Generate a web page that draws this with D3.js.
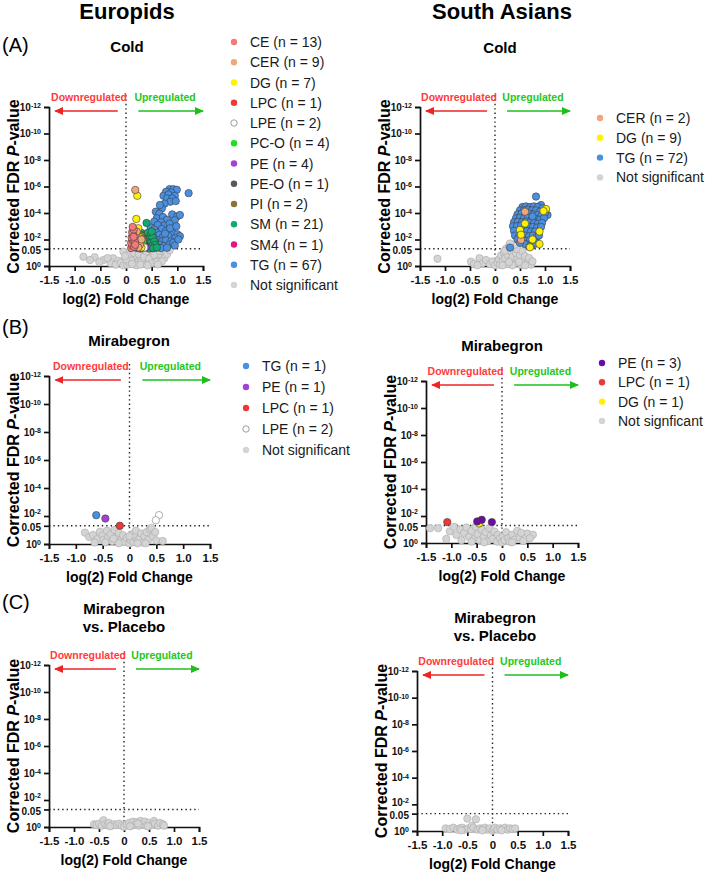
<!DOCTYPE html>
<html>
<head>
<meta charset="utf-8">
<script src="https://cdn.jsdelivr.net/npm/d3@7"></script>
<style>
  body { margin: 0; background: #fff; }
  text { font-family: "Liberation Sans", Arial, sans-serif; }
</style>
</head>
<body>
<div id="chart"></div>
<script>
// every point is [log2 fold change, -log10 corrected FDR p]

// (A) Europids, cold
const eurColdNS = [[-0.83,0.7],[-0.61,0.66],[-0.44,0.45],[-0.25,0.58],[-0.05,1.08],[-0.52,0.3],[-0.7,0.45],[-0.3,0.22],[-0.15,0.4],[-0.2,0.1],[-0.1,0.25],[-0.05,0.05],[-0.36,0.6],
  [0.02,0.1],[0.05,0.3],[0.08,0.6],[0.1,0.9],[0.12,1.2],[0.15,0.2],[0.18,0.5],[0.2,0.8],[0.22,1.1],[0.25,0.35],[0.28,0.65],[0.3,0.95],[0.32,1.2],[0.35,0.15],[0.38,0.45],[0.4,0.75],
  [0.42,1.05],[0.45,0.3],[0.48,0.6],[0.5,0.9],[0.52,1.15],[0.55,0.4],[0.58,0.7],[0.6,1.0],[0.65,0.5],[0.68,0.85],[0.72,1.1],[0.75,0.6],[0.8,0.9],[0.05,0.85],[0.1,0.4],[0.15,1.0],
  [0.2,0.05],[0.25,0.9],[0.3,0.3],[0.35,0.7],[0.4,1.1],[0.45,0.55],[0.5,0.2],[0.55,0.85],[0.6,0.3],[0.65,1.15],[0.7,0.35],[0.0,0.5],[-0.02,0.75],[0.12,0.15],[0.28,0.1],[0.42,0.05],[0.85,1.2],[0.62,0.12]];
const eurColdTG = [[0.85,5.8],[0.92,5.8],[0.99,5.75],[0.78,5.6],[0.88,5.55],[0.73,5.3],[0.83,5.4],[0.95,5.3],[1.22,5.5],[0.8,5.1],[0.9,5.1],[0.86,4.85],[0.97,4.9],[0.75,4.7],[0.7,4.35],
  [0.58,4.1],[0.65,3.95],[0.9,3.9],[1.0,3.75],[1.05,3.85],[0.6,3.6],[0.72,3.7],[0.8,3.5],[0.55,3.35],[0.68,3.3],[0.95,3.45],[0.62,3.1],[0.75,3.05],[0.85,3.2],[0.48,2.9],[0.55,2.75],
  [0.7,2.8],[0.78,2.65],[0.9,2.55],[0.6,2.5],[0.5,2.4],[0.65,2.35],[0.72,2.2],[0.82,2.3],[1.0,2.4],[1.05,2.25],[0.96,2.1],[0.45,2.2],[0.55,2.05],[0.62,1.95],[0.7,1.85],[0.78,1.95],
  [0.88,1.85],[0.48,1.8],[0.58,1.7],[0.66,1.6],[0.74,1.5],[0.84,1.6],[0.92,1.75],[0.52,1.55],[0.6,1.4],[0.68,1.35],[0.8,1.38],[0.46,1.45],[0.56,1.9],[0.76,2.45],[0.86,2.85],[0.98,3.0],
  [0.66,4.6],[0.52,1.35],[0.95,1.55],[1.02,2.0]];
const eurColdSM4 = [[0.3,1.6]];
const eurColdSM = [[0.4,3.25],[0.3,2.5],[0.35,2.3],[0.42,2.5],[0.48,2.3],[0.38,2.05],[0.45,2.0],[0.52,2.15],[0.33,1.75],[0.4,1.8],[0.47,1.7],[0.55,1.85],[0.37,1.55],[0.43,1.45],
  [0.5,1.5],[0.57,1.6],[0.45,1.32],[0.53,1.35],[0.6,1.4],[0.27,2.1],[0.5,2.6]];
const eurColdPI = [[0.34,2.0],[0.3,2.3]];
const eurColdPEO = [[0.36,1.6]];
const eurColdPE = [[0.32,1.35],[0.35,1.5],[0.38,1.4],[0.28,1.32]];
const eurColdPCO = [[0.27,1.7],[0.29,1.5],[0.33,1.85],[0.25,1.35]];
const eurColdLPE = [[0.3,1.5],[0.35,1.4]];
const eurColdLPC = [[0.2,1.38]];
const eurColdDG = [[0.22,5.3],[0.2,3.55],[0.24,2.85],[0.26,2.2],[0.28,1.75],[0.23,1.5],[0.3,1.4]];
const eurColdCER = [[0.18,5.74],[0.2,1.5],[0.22,1.8],[0.25,2.1],[0.19,2.4],[0.27,1.6],[0.24,1.4],[0.3,2.0],[0.21,2.6]];
const eurColdCE = [[0.1,1.35],[0.12,1.55],[0.1,1.75],[0.13,1.95],[0.11,2.15],[0.14,2.35],[0.12,2.55],[0.15,2.75],[0.13,2.95],[0.16,1.45],[0.17,1.85],[0.15,2.2],[0.18,1.6]];

// (A) South Asians, cold
const saColdNS = [[-1.15,0.55],[-0.48,0.33],[-0.42,0.15],[-0.31,0.58],[-0.25,0.2],[-0.18,0.45],[-0.1,0.15],[-0.05,0.35],[0.0,0.05],[0.05,0.25],[0.08,0.5],[0.1,0.1],[0.12,0.8],
  [0.15,0.35],[0.18,1.0],[0.2,0.6],[0.22,1.3],[0.25,0.15],[0.25,0.85],[0.28,1.55],[0.3,0.4],[0.32,1.1],[0.35,0.7],[0.38,1.4],[0.4,0.2],[0.42,0.95],[0.45,1.25],[0.45,0.5],[0.5,0.8],
  [0.52,0.1],[0.55,1.1],[0.58,0.45],[0.6,0.75],[0.65,0.25],[0.68,0.6],[0.72,0.1],[0.75,0.35],[0.35,0.05],[0.15,0.05],[0.6,0.05],[0.48,0.3],[0.28,0.3],[-0.35,0.05],[0.4,1.6],
  [0.3,1.7],[0.2,1.15]];
const saColdTG = [[0.82,5.24],[0.92,4.6],[1.05,3.85],[0.55,4.45],[0.62,4.5],[0.7,4.45],[0.78,4.5],[0.86,4.45],[0.95,4.35],[0.5,4.2],[0.58,4.2],[0.66,4.25],[0.74,4.2],[0.82,4.2],
  [0.9,4.1],[1.0,4.0],[0.45,3.9],[0.53,3.95],[0.61,3.9],[0.69,3.95],[0.77,3.9],[0.85,3.85],[0.93,3.8],[0.42,3.6],[0.5,3.65],[0.58,3.6],[0.66,3.65],[0.74,3.6],[0.82,3.55],[0.9,3.5],
  [0.98,3.6],[0.38,3.3],[0.46,3.35],[0.54,3.3],[0.62,3.35],[0.7,3.3],[0.78,3.25],[0.86,3.2],[0.94,3.25],[0.36,3.0],[0.44,3.0],[0.52,3.05],[0.6,3.0],[0.68,2.95],[0.76,2.95],[0.84,2.9],
  [0.92,2.95],[0.38,2.65],[0.56,2.7],[0.64,2.65],[0.72,2.6],[0.8,2.6],[0.4,2.3],[0.48,2.2],[0.6,2.3],[0.68,2.25],[0.76,2.3],[0.84,2.2],[0.55,1.95],[0.62,1.9],[0.7,1.95],[0.78,1.85],
  [0.66,1.6],[0.74,1.55],[0.82,1.7],[0.3,1.39],[0.6,1.65],[0.69,1.46],[0.45,2.0],[0.88,2.3],[0.5,1.75],[0.75,3.75]];
const saColdDG = [[1.02,4.3],[0.97,4.15],[0.5,2.72],[0.52,2.36],[0.89,2.6],[0.89,1.66],[0.7,1.41],[0.6,3.2],[0.75,2.0]];
const saColdCER = [[0.6,4.1],[0.52,1.97]];

// (B) Europids, mirabegron
const eurMiraNS = [[-0.83,0.81],[-0.75,0.5],[-0.68,0.64],[-0.6,0.35],[-0.55,0.88],[-0.5,0.6],[-0.49,0.3],[-0.42,0.95],[-0.4,0.45],[-0.35,0.7],[-0.32,0.2],[-0.28,1.0],[-0.24,0.52],
  [-0.2,0.8],[-0.15,0.3],[-0.12,0.62],[-0.09,0.15],[-0.05,0.45],[0.0,0.05],[0.02,0.3],[0.05,0.7],[0.07,0.15],[0.1,0.5],[0.12,0.95],[0.15,0.25],[0.19,0.4],[0.22,0.75],[0.25,0.1],
  [0.28,0.55],[0.32,0.85],[0.35,0.3],[0.38,1.05],[0.41,1.15],[0.44,0.55],[0.48,0.85],[0.5,0.25],[0.62,0.21],[-0.65,0.1],[-0.45,0.12],[-0.2,0.05],[0.15,0.05],[0.3,0.05],[-0.3,0.38],[0.0,0.55]];
const eurMiraTG = [[-0.62,2.06]];
const eurMiraPE = [[-0.45,1.82]];
const eurMiraLPC = [[-0.18,1.3]];
const eurMiraLPE = [[0.55,2.06],[0.49,1.7]];

// (B) South Asians, mirabegron
const saMiraNS = [[-1.42,1.1],[-1.26,1.1],[-1.03,0.86],[-0.95,1.2],[-0.9,0.6],[-0.82,1.0],[-0.75,0.75],[-0.7,1.15],[-0.65,0.45],[-0.6,0.9],[-0.55,0.3],[-0.52,1.2],[-0.48,0.65],
  [-0.44,0.2],[-0.4,1.0],[-0.36,0.45],[-0.32,0.8],[-0.28,0.15],[-0.25,1.1],[-0.22,0.55],[-0.18,0.3],[-0.15,0.85],[-0.1,0.1],[-0.08,0.6],[-0.04,0.35],[0.0,0.05],[0.02,0.5],[0.05,0.2],
  [0.08,0.8],[0.12,0.35],[0.15,0.1],[0.2,0.6],[0.25,0.25],[0.3,0.9],[0.35,0.4],[0.42,0.15],[0.5,0.7],[0.61,0.61],[0.55,0.35],[0.38,0.75],[-0.6,0.1],[-0.8,0.2],[-0.35,0.05],[0.2,0.05],[-1.1,0.3]];
const saMiraDG = [[-0.45,1.45]];
const saMiraPE = [[-0.49,1.6],[-0.4,1.72],[-0.2,1.55]];
const saMiraLPC = [[-1.08,1.55]];

// (C) mirabegron vs. placebo
const eurPlacNS = [[-0.6,0.2],[-0.55,0.15],[-0.5,0.25],[-0.45,0.1],[-0.41,0.5],[-0.38,0.2],[-0.33,0.15],[-0.3,0.3],[-0.25,0.1],[-0.2,0.2],[-0.15,0.15],[-0.1,0.25],[-0.05,0.1],
  [0.0,0.02],[0.05,0.2],[0.1,0.3],[0.15,0.1],[0.18,0.4],[0.22,0.2],[0.25,0.35],[0.3,0.1],[0.33,0.45],[0.38,0.2],[0.42,0.4],[0.45,0.1],[0.5,0.3],[0.55,0.15],[0.6,0.45],[0.62,0.25],
  [0.68,0.1],[0.72,0.3],[0.78,0.2],[0.8,0.1],[0.28,0.25],[0.12,0.05],[0.48,0.05],[-0.28,0.05]];
const saPlacNS = [[-0.93,0.2],[-0.85,0.15],[-0.78,0.25],[-0.7,0.1],[-0.65,0.2],[-0.6,0.25],[-0.55,0.1],[-0.5,0.93],[-0.48,0.2],[-0.43,0.15],[-0.41,0.38],[-0.38,0.25],[-0.33,0.88],
  [-0.3,0.1],[-0.25,0.2],[-0.2,0.15],[-0.15,0.25],[-0.1,0.1],[-0.05,0.2],[0.0,0.02],[0.02,0.15],[0.05,0.25],[0.1,0.1],[0.15,0.2],[0.2,0.15],[0.25,0.25],[0.3,0.1],[0.35,0.2],
  [0.4,0.15],[0.45,0.2],[-0.62,0.05],[-0.2,0.05],[0.18,0.05]];

// ticks and labels
const xTickVals = [-1.5, -1, -0.5, 0, 0.5, 1, 1.5];
const xTickLabels = ["-1.5", "-1.0", "-0.5", "0", "0.5", "1.0", "1.5"];
const yTickVals = [0, 1.3, 2, 4, 6, 8, 10, 12];
const yTickLabels = ["10^0", "0.05", "10^-2", "10^-4", "10^-6", "10^-8", "10^-10", "10^-12"];
const fdrCut = 1.3; // -log10(0.05)

const eurColdLegend = ["CE (n = 13)", "CER (n = 9)", "DG (n = 7)", "LPC (n = 1)", "LPE (n = 2)", "PC-O (n = 4)", "PE (n = 4)", "PE-O (n = 1)", "PI (n = 2)", "SM (n = 21)", "SM4 (n = 1)", "TG (n = 67)", "Not significant"];
const saColdLegend = ["CER (n = 2)", "DG (n = 9)", "TG (n = 72)", "Not significant"];
const eurMiraLegend = ["TG (n = 1)", "PE (n = 1)", "LPC (n = 1)", "LPE (n = 2)", "Not significant"];
const saMiraLegend = ["PE (n = 3)", "LPC (n = 1)", "DG (n = 1)", "Not signficant"];

const clr = {
  CE: "#f47a7a", CER: "#f0a878", DG: "#fff200", LPC: "#ee3838", LPE: "#ffffff", PCO: "#1fe01f",
  PE: "#a540d6", PEdark: "#6a0ca6", PEO: "#585858", PI: "#8a7538", SM: "#12a96c", SM4: "#e3177d",
  TG: "#4a90e2", NS: "#d4d4d4"
};

const panels = [
  { box: [49, 203, 107, 266], title: ["Cold"], titleX: 127, titleY: 52,
    series: [[eurColdNS,"NS"],[eurColdTG,"TG"],[eurColdSM4,"SM4"],[eurColdSM,"SM"],[eurColdPI,"PI"],[eurColdPEO,"PEO"],[eurColdPE,"PE"],[eurColdPCO,"PCO"],[eurColdLPE,"LPE"],[eurColdLPC,"LPC"],[eurColdDG,"DG"],[eurColdCER,"CER"],[eurColdCE,"CE"]],
    legend: { x: 234, y: 42, dy: 20.25, labels: eurColdLegend, keys: ["CE","CER","DG","LPC","LPE","PCO","PE","PEO","PI","SM","SM4","TG","NS"] } },
  { box: [420, 570, 107, 266], title: ["Cold"], titleX: 500, titleY: 53,
    series: [[saColdNS,"NS"],[saColdTG,"TG"],[saColdCER,"CER"],[saColdDG,"DG"]],
    legend: { x: 600, y: 118, dy: 19.8, labels: saColdLegend, keys: ["CER","DG","TG","NS"] } },
  { box: [49, 210, 376, 544], title: ["Mirabegron"], titleX: 129, titleY: 346,
    series: [[eurMiraNS,"NS"],[eurMiraTG,"TG"],[eurMiraPE,"PE"],[eurMiraLPC,"LPC"],[eurMiraLPE,"LPE"]],
    legend: { x: 246, y: 366, dy: 21, labels: eurMiraLegend, keys: ["TG","PE","LPC","LPE","NS"] } },
  { box: [426, 578, 381, 543], title: ["Mirabegron"], titleX: 502, titleY: 351,
    series: [[saMiraNS,"NS"],[saMiraDG,"DG"],[saMiraPE,"PEdark"],[saMiraLPC,"LPC"]],
    legend: { x: 602, y: 363, dy: 19.3, labels: saMiraLegend, keys: ["PEdark","LPC","DG","NS"] } },
  { box: [49, 199, 665, 827], title: ["Mirabegron", "vs. Placebo"], titleX: 124, titleY: 614,
    series: [[eurPlacNS,"NS"]], legend: null },
  { box: [417, 568, 671, 831], title: ["Mirabegron", "vs. Placebo"], titleX: 495, titleY: 623,
    series: [[saPlacNS,"NS"]], legend: null }
];

const svg = d3.select("#chart").append("svg")
    .attr("width", 709)
    .attr("height", 875);

const defs = svg.append("defs");
[["arrRed", "#ee2525"], ["arrGreen", "#1cbf1c"]].forEach(([id, c]) => {
  defs.append("marker")
      .attr("id", id)
      .attr("viewBox", "0 0 9 8")
      .attr("refX", 8).attr("refY", 4)
      .attr("markerWidth", 9).attr("markerHeight", 8)
      .attr("markerUnits", "userSpaceOnUse")
      .attr("orient", "auto")
    .append("path")
      .attr("d", "M0,0L9,4L0,8Z")
      .attr("fill", c);
});

// group headers and panel tags
svg.append("text").attr("x", 127).attr("y", 19).attr("text-anchor", "middle")
    .style("font-size", "22px").style("font-weight", "bold").text("Europids");
svg.append("text").attr("x", 502).attr("y", 19).attr("text-anchor", "middle")
    .style("font-size", "22px").style("font-weight", "bold").text("South Asians");
[["(A)", 52], ["(B)", 334], ["(C)", 609]].forEach(([t, yy]) => {
  svg.append("text").attr("x", 2).attr("y", yy).style("font-size", "20px").text(t);
});

function drawPanel(p) {
  const x = d3.scaleLinear().domain([-1.5, 1.5]).range([p.box[0], p.box[1]]);
  const y = d3.scaleLinear().domain([0, 12]).range([p.box[3], p.box[2]]);
  const g = svg.append("g");

  // titles
  p.title.forEach((t, i) => {
    g.append("text").attr("x", p.titleX).attr("y", p.titleY + i * 17.5)
        .attr("text-anchor", "middle")
        .style("font-size", "15px").style("font-weight", "bold").text(t);
  });

  // threshold lines
  g.append("line")
      .attr("x1", x(-1.5)).attr("x2", x(1.5))
      .attr("y1", y(fdrCut)).attr("y2", y(fdrCut))
      .attr("stroke", "#222").attr("stroke-width", 1.4).attr("stroke-dasharray", "1.4,3");
  g.append("line")
      .attr("x1", x(0)).attr("x2", x(0))
      .attr("y1", y(12) - 12).attr("y2", y(0))
      .attr("stroke", "#222").attr("stroke-width", 1.4).attr("stroke-dasharray", "1.4,3");

  // direction arrows
  g.append("line").attr("x1", x(-0.16)).attr("x2", x(-1.38))
      .attr("y1", y(12) + 4).attr("y2", y(12) + 4)
      .attr("stroke", "#ee2525").attr("stroke-width", 1.5).attr("marker-end", "url(#arrRed)");
  g.append("line").attr("x1", x(0.24)).attr("x2", x(1.5))
      .attr("y1", y(12) + 4).attr("y2", y(12) + 4)
      .attr("stroke", "#1cbf1c").attr("stroke-width", 1.5).attr("marker-end", "url(#arrGreen)");
  g.append("text").attr("x", x(-0.72)).attr("y", y(12) - 6).attr("text-anchor", "middle")
      .style("font-size", "10.5px").style("font-weight", "bold").attr("fill", "#ff3b3b").text("Downregulated");
  g.append("text").attr("x", x(0.76)).attr("y", y(12) - 6).attr("text-anchor", "middle")
      .style("font-size", "10.5px").style("font-weight", "bold").attr("fill", "#22c822").text("Upregulated");

  // axes
  const xAxis = g.append("g")
      .attr("transform", `translate(0,${y(0)})`)
      .call(d3.axisBottom(x).tickValues(xTickVals).tickFormat((d, i) => xTickLabels[i]).tickSizeOuter(0).tickSize(5));
  xAxis.selectAll("text").style("font-size", "11.5px").style("font-weight", "bold").attr("fill", "#111").attr("dy", "0.9em");

  const yAxis = g.append("g")
      .attr("transform", `translate(${x(-1.5)},0)`)
      .call(d3.axisLeft(y).tickValues(yTickVals).tickSizeOuter(0).tickSize(5));
  yAxis.selectAll(".tick text").each(function(d, i) {
    const t = d3.select(this).text(null)
        .style("font-size", "10px").style("font-weight", "bold").attr("fill", "#111");
    // the 10^-2 and 0.05 ticks sit close together: pull their labels apart a little
    if (d === 2) t.attr("y", -2.5);
    if (d === fdrCut) t.attr("y", 1.5);
    const parts = yTickLabels[i].split("^");
    t.append("tspan").text(parts[0]);
    if (parts[1]) t.append("tspan").attr("dy", "-0.4em").style("font-size", "7px").text(parts[1]);
  });
  [xAxis, yAxis].forEach(a => {
    a.selectAll("path, line").attr("stroke", "#111").attr("stroke-width", 1.7);
  });

  // y title
  const yt = g.append("text")
      .attr("transform", `translate(${x(-1.5) - 30},${(y(0) + y(12)) / 2}) rotate(-90)`)
      .attr("text-anchor", "middle")
      .style("font-size", "16px").style("font-weight", "bold");
  yt.append("tspan").text("Corrected FDR ");
  yt.append("tspan").style("font-style", "italic").text("P");
  yt.append("tspan").text("-value");

  // x title
  g.append("text").attr("x", x(0)).attr("y", y(0) + 38).attr("text-anchor", "middle")
      .style("font-size", "14px").style("font-weight", "bold").text("log(2) Fold Change");

  // points
  p.series.forEach(([data, key]) => {
    g.append("g").selectAll("circle")
      .data(data)
      .join("circle")
        .attr("cx", d => x(d[0]))
        .attr("cy", d => y(d[1]))
        .attr("r", 3.7)
        .attr("fill", clr[key])
        .attr("stroke", key === "NS" ? "#a9a9a9" : (key === "LPE" ? "#7a7a7a" : "#3d3d3d"))
        .attr("stroke-width", 0.6);
  });

  // legend
  if (p.legend) {
    const L = p.legend;
    const lg = g.append("g");
    L.labels.forEach((lab, i) => {
      const yy = L.y + i * L.dy;
      lg.append("circle").attr("cx", L.x).attr("cy", yy).attr("r", 3.2)
          .attr("fill", clr[L.keys[i]])
          .attr("stroke", L.keys[i] === "LPE" ? "#888" : "none").attr("stroke-width", 0.8);
      lg.append("text").attr("x", L.x + 16).attr("y", yy + 5)
          .style("font-size", "14px").attr("fill", "#1a1a1a").text(lab);
    });
  }
}

panels.forEach(drawPanel);
</script>
</body>
</html>
